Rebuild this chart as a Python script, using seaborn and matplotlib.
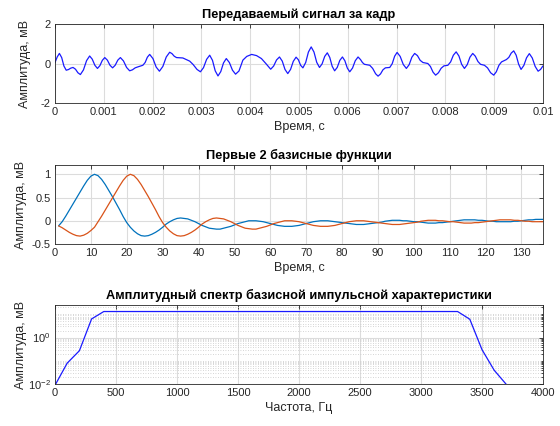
import numpy as np
import pandas as pd
import matplotlib
matplotlib.use("Agg")
import matplotlib.pyplot as plt
import seaborn as sns
from matplotlib.ticker import LogLocator, NullFormatter, FixedLocator, LogFormatterMathtext

# ---------------- data ----------------
t_ms = [0.00, 0.045, 0.09, 0.137, 0.183, 0.23, 0.277, 0.323, 0.37, 0.42, 0.47, 0.52,
        0.583, 0.647, 0.71, 0.763, 0.817, 0.87, 0.92, 0.97, 1.02, 1.073, 1.127, 1.18,
        1.233, 1.287, 1.34, 1.403, 1.467, 1.53, 1.587, 1.643, 1.70, 1.80, 1.847, 1.893,
        1.94, 2.007, 2.073, 2.14, 2.21, 2.28, 2.35, 2.397, 2.443, 2.49, 2.62, 2.76,
        2.83, 2.91, 2.98, 3.043, 3.107, 3.17, 3.227, 3.283, 3.34, 3.397, 3.453, 3.51,
        3.573, 3.637, 3.70, 3.77, 3.85, 3.93, 4.03, 4.13, 4.23, 4.32, 4.42, 4.48,
        4.54, 4.60, 4.657, 4.713, 4.77, 4.827, 4.883, 4.94, 4.987, 5.033, 5.08, 5.137,
        5.193, 5.25, 5.307, 5.363, 5.42, 5.473, 5.527, 5.58, 5.63, 5.68, 5.73, 5.783,
        5.837, 5.89, 5.94, 5.99, 6.04, 6.097, 6.153, 6.21, 6.26, 6.30, 6.34, 6.45,
        6.51, 6.57, 6.62, 6.67, 6.72, 6.77, 6.86, 6.91, 6.96, 7.01, 7.073, 7.137,
        7.20, 7.257, 7.313, 7.37, 7.427, 7.483, 7.54, 7.64, 7.693, 7.747, 7.80, 7.857,
        7.913, 7.97, 8.05, 8.107, 8.163, 8.22, 8.277, 8.333, 8.39, 8.447, 8.503, 8.56,
        8.613, 8.667, 8.72, 8.80, 8.863, 8.927, 8.99, 9.043, 9.097, 9.15, 9.25, 9.30,
        9.35, 9.40, 9.45, 9.50, 9.55, 9.607, 9.663, 9.72, 9.78, 9.84, 9.90, 9.95, 10.0]
signal_mv = [0.05, 0.33, 0.51, 0.30, -0.13, -0.34, -0.305, -0.235, -0.20, -0.29, -0.47, -0.56,
             -0.325, 0.145, 0.38, 0.22, -0.09, -0.25, -0.11, 0.16, 0.30, 0.17, -0.09, -0.22,
             -0.09, 0.17, 0.30, 0.13, -0.20, -0.37, -0.32, -0.22, -0.17, -0.09, 0.05, 0.32,
             0.46, 0.25, -0.18, -0.39, -0.15, 0.33, 0.57, 0.50, 0.37, 0.30, 0.28, 0.12,
             -0.05, -0.30, -0.42, -0.21, 0.21, 0.42, 0.16, -0.37, -0.63, -0.41, 0.03, 0.25,
             0.05, -0.34, -0.54, -0.38, 0.17, 0.36, 0.46, 0.40, 0.25, 0.00, -0.29, -0.13,
             0.18, 0.33, 0.12, -0.30, -0.51, -0.30, 0.11, 0.32, 0.19, -0.09, -0.22, 0.05,
             0.58, 0.84, 0.58, 0.06, -0.20, -0.02, 0.36, 0.54, 0.31, -0.14, -0.37, -0.20,
             0.16, 0.33, 0.14, -0.23, -0.42, -0.23, 0.14, 0.33, 0.20, 0.05, -0.04, -0.09,
             -0.25, -0.52, -0.64, -0.53, -0.32, -0.22, -0.20, -0.01, 0.37, 0.56, 0.36, -0.05,
             -0.25, -0.06, 0.32, 0.51, 0.40, 0.16, 0.05, 0.00, -0.15, -0.44, -0.59, -0.47,
             -0.24, -0.12, -0.09, 0.08, 0.42, 0.59, 0.38, -0.04, -0.25, -0.06, 0.32, 0.51,
             0.37, 0.10, -0.04, -0.09, -0.22, -0.47, -0.59, -0.42, -0.09, 0.08, 0.20, 0.31,
             0.53, 0.64, 0.42, -0.03, -0.30, -0.10, 0.29, 0.50, 0.28, -0.15, -0.39, -0.30, -0.12]

sample_idx = list(range(1, 137))
basis_1 = [-0.11, -0.02, 0.10, 0.23, 0.36, 0.49, 0.62, 0.75, 0.87, 0.96,
           1.00, 0.97, 0.89, 0.78, 0.65, 0.52, 0.38, 0.24, 0.09, -0.04,
           -0.14, -0.22, -0.28, -0.32, -0.33, -0.32, -0.29, -0.25, -0.20, -0.14,
           -0.07, -0.02, 0.02, 0.05, 0.06, 0.05, 0.04, 0.01, -0.02, -0.06,
           -0.10, -0.13, -0.16, -0.17, -0.18, -0.18, -0.16, -0.14, -0.12, -0.09,
           -0.06, -0.04, -0.02, 0.00, 0.00, 0.00, -0.01, -0.02, -0.04, -0.06,
           -0.08, -0.10, -0.11, -0.12, -0.12, -0.12, -0.11, -0.10, -0.08, -0.06,
           -0.04, -0.02, -0.01, 0.00, 0.00, 0.00, -0.01, -0.02, -0.03, -0.04,
           -0.05, -0.06, -0.07, -0.08, -0.08, -0.08, -0.07, -0.06, -0.05, -0.04,
           -0.03, -0.01, 0.00, 0.01, 0.01, 0.01, 0.00, 0.00, -0.01, -0.02,
           -0.02, -0.03, -0.04, -0.05, -0.05, -0.05, -0.04, -0.04, -0.03, -0.02,
           -0.01, 0.00, 0.01, 0.02, 0.02, 0.02, 0.02, 0.01, 0.01, 0.00,
           -0.01, -0.01, -0.02, -0.02, -0.02, -0.02, -0.02, -0.01, -0.01, 0.00,
           0.01, 0.02, 0.02, 0.03, 0.03, 0.03]
basis_2 = [-0.11, -0.15, -0.20, -0.25, -0.29, -0.32, -0.33, -0.31, -0.27, -0.21,
           -0.14, -0.02, 0.10, 0.23, 0.36, 0.49, 0.62, 0.75, 0.87, 0.96,
           1.00, 0.97, 0.89, 0.78, 0.65, 0.52, 0.38, 0.24, 0.09, -0.04,
           -0.14, -0.22, -0.28, -0.32, -0.33, -0.32, -0.29, -0.25, -0.20, -0.14,
           -0.07, -0.02, 0.02, 0.05, 0.06, 0.05, 0.04, 0.01, -0.02, -0.06,
           -0.10, -0.13, -0.16, -0.17, -0.18, -0.18, -0.16, -0.14, -0.12, -0.09,
           -0.06, -0.04, -0.02, 0.00, 0.00, 0.00, -0.01, -0.02, -0.04, -0.06,
           -0.08, -0.10, -0.11, -0.12, -0.12, -0.12, -0.11, -0.10, -0.08, -0.06,
           -0.04, -0.02, -0.01, 0.00, 0.00, 0.00, -0.01, -0.02, -0.03, -0.04,
           -0.05, -0.06, -0.07, -0.08, -0.08, -0.08, -0.07, -0.06, -0.05, -0.04,
           -0.03, -0.01, 0.00, 0.01, 0.01, 0.01, 0.00, 0.00, -0.01, -0.02,
           -0.02, -0.03, -0.04, -0.05, -0.05, -0.05, -0.04, -0.04, -0.03, -0.02,
           -0.01, 0.00, 0.01, 0.02, 0.02, 0.02, 0.02, 0.01, 0.01, 0.00,
           -0.01, -0.01, -0.02, -0.02, -0.02, -0.02]

freq_hz = list(range(0, 4001, 100))
spectrum_mv = [0.0088, 0.079, 0.27, 6.3] + [13.1] * 30 + [6.1, 0.30, 0.039, 0.0095,
                                                          0.002, 0.0006, 0.0002]

titles = ["Передаваемый сигнал за кадр",
          "Первые 2 базисные функции",
          "Амплитудный спектр базисной импульсной характеристики"]
ylabel_txt = "Амплитуда, мВ"
xlabels = ["Время, с", "Время, с", "Частота, Гц"]
top_xticks = [0, 0.001, 0.002, 0.003, 0.004, 0.005, 0.006, 0.007, 0.008, 0.009, 0.01]
top_xticklabels = ["0", "0.001", "0.002", "0.003", "0.004", "0.005", "0.006",
                   "0.007", "0.008", "0.009", "0.01"]

# ---------------- style ----------------
sns.set_style("white")
plt.rcParams["font.family"] = ["Liberation Sans", "DejaVu Sans"]
plt.rcParams["axes.unicode_minus"] = False
plt.rcParams["mathtext.fontset"] = "custom"
plt.rcParams["mathtext.rm"] = "Liberation Sans"
plt.rcParams["mathtext.it"] = "Liberation Sans:italic"

TXT = "#262626"
GRID = "#dcdcdc"
FS_TICK = 8
FS_LAB = 9
FS_TITLE = 9.2

fig = plt.figure(figsize=(5.6, 4.26), dpi=100)
W, H = 560.0, 426.0
L, R = 55.0, 543.0
tops = [24.0, 165.0, 305.0]
ah = 79.0
axes = [fig.add_axes([L / W, (H - t - ah) / H, (R - L) / W, ah / H]) for t in tops]


def style(ax):
    for s in ax.spines.values():
        s.set_color(TXT)
        s.set_linewidth(0.6)
    ax.tick_params(which="both", direction="in", top=True, right=True,
                   colors=TXT, labelsize=FS_TICK, width=0.6)
    ax.tick_params(which="major", length=3, pad=3)
    ax.tick_params(which="minor", length=1.5)
    ax.set_axisbelow(True)


# ---- panel 1 ----
ax = axes[0]
df1 = pd.DataFrame({"t": np.array(t_ms) / 1000.0, "v": signal_mv})
sns.lineplot(data=df1, x="t", y="v", ax=ax, color="#1a1aff", linewidth=0.9)
ax.set_xlim(0, 0.01)
ax.set_ylim(-2, 2)
ax.set_yticks([-2, 0, 2])
ax.set_xticks(top_xticks)
ax.set_xticklabels(top_xticklabels)
ax.grid(True, color=GRID, linewidth=0.8)

# ---- panel 2 ----
ax = axes[1]
df2 = pd.DataFrame({"n": sample_idx, "b1": basis_1, "b2": basis_2})
sns.lineplot(data=df2, x="n", y="b1", ax=ax, color="#0072BD", linewidth=0.9)
sns.lineplot(data=df2, x="n", y="b2", ax=ax, color="#D95319", linewidth=0.9)
ax.set_xlim(0, 136)
ax.set_ylim(-0.5, 1.2)
ax.set_yticks([-0.5, 0, 0.5, 1])
ax.set_yticklabels(["-0.5", "0", "0.5", "1"])
ax.set_xticks(list(range(0, 131, 10)))
ax.grid(True, color=GRID, linewidth=0.8)

# ---- panel 3 ----
ax = axes[2]
df3 = pd.DataFrame({"f": freq_hz, "s": spectrum_mv})
sns.lineplot(data=df3, x="f", y="s", ax=ax, color="#1a1aff", linewidth=0.9)
ax.set_yscale("log")
ax.set_xlim(0, 4000)
ax.set_ylim(0.01, 25)
ax.set_xticks(list(range(0, 4001, 500)))
ax.yaxis.set_major_locator(FixedLocator([1e-2, 1e0]))
ax.yaxis.set_major_formatter(LogFormatterMathtext())
ax.yaxis.set_minor_locator(LogLocator(base=10, subs=np.arange(1, 10), numticks=20))
ax.yaxis.set_minor_formatter(NullFormatter())
ax.grid(True, which="major", color=GRID, linewidth=0.8)
ax.grid(True, which="minor", axis="y", color="#c8c8c8", linewidth=0.6, linestyle=(0, (1, 2)))

for i, ax in enumerate(axes):
    style(ax)
    ax.set_title(titles[i], fontsize=FS_TITLE, fontweight="bold", color="black", pad=4)
    ax.set_xlabel(xlabels[i], fontsize=FS_LAB, color=TXT, labelpad=3)
    ax.set_ylabel(ylabel_txt, fontsize=FS_LAB, color=TXT)

axes[0].yaxis.set_label_coords((31 - L) / (R - L), 0.5)
axes[1].yaxis.set_label_coords((27 - L) / (R - L), 0.5)
axes[2].yaxis.set_label_coords((27 - L) / (R - L), 0.5)

fig.savefig("out.png", dpi=100, facecolor="white")
